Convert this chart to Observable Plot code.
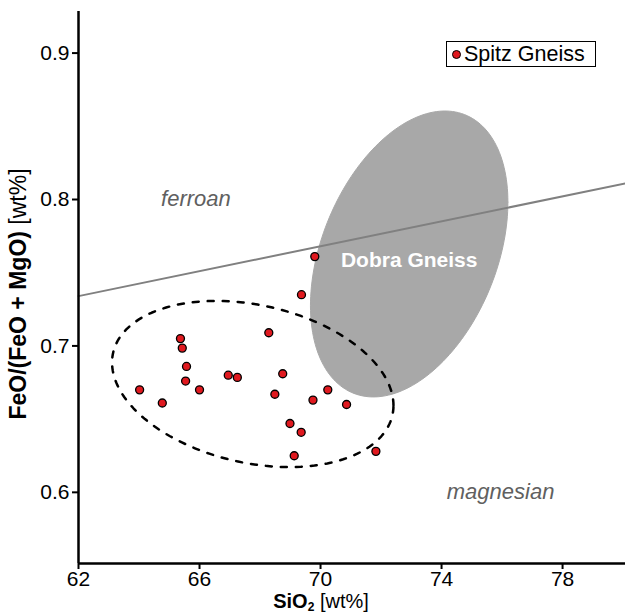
<!DOCTYPE html>
<html><head><meta charset="utf-8">
<script src="https://cdn.jsdelivr.net/npm/d3@7"></script>
<script src="https://cdn.jsdelivr.net/npm/@observablehq/plot@0.6"></script>
<style>
body{margin:0;background:#fff;}
#wrap{position:relative;width:625px;height:615px;font-family:"Liberation Sans",Arial,sans-serif;}
#legend{position:absolute;left:446px;top:41px;width:148px;height:24px;border:1.5px solid #000;background:#fff;display:flex;align-items:center;font-size:21.5px;color:#000;}
#legend .d{width:7px;height:7px;border-radius:50%;background:#e0191f;border:1.2px solid #000;margin:0 3px 0 5px;}
</style></head><body><div id="wrap"></div>
<script>
// Spitz Gneiss samples
const sio2 = [64.02,64.77,65.37,65.43,65.57,65.54,66.00,66.95,67.25,68.29,68.75,68.49,68.99,69.36,69.13,69.75,70.24,70.86,71.83,69.81,69.37];
const feoRatio = [0.670,0.661,0.705,0.6985,0.686,0.676,0.670,0.680,0.6785,0.709,0.681,0.667,0.647,0.641,0.625,0.663,0.670,0.660,0.628,0.761,0.735];
const xTicks = [62,66,70,74,78];
const yTicks = [0.6,0.7,0.8,0.9];
// ferroan / magnesian boundary
const boundarySiO2 = [62,80.08];
const boundaryRatio = [0.734,0.811];
// ellipses: centre, offset of right-most point, vertical half-chord through centre
const dobraCenter = [72.93,0.7628], dobraRight = [3.263,0.0354], dobraHalf = 0.091;
const spitzCenter = [67.76,0.674], spitzRight = [4.651,-0.0147], spitzHalf = 0.0548;
// annotations
const labelText = ["ferroan","magnesian"];
const labelX = [65.88,75.95];
const labelY = [0.8003,0.600];
const dobraLabel = ["Dobra Gneiss"];

function ellipse(c, r, h){
  return d3.range(0,361,2).map(a=>{const t=a*Math.PI/180;return {x:c[0]+r[0]*Math.cos(t), y:c[1]+r[1]*Math.cos(t)+h*Math.sin(t)};});
}
const pts = sio2.map((x,i)=>({x, y:feoRatio[i]}));
const boundary = boundarySiO2.map((x,i)=>({x,y:boundaryRatio[i]}));
const labels = labelText.map((t,i)=>({t,x:labelX[i],y:labelY[i]}));

const plot = Plot.plot({
  width:625, height:615,
  marginLeft:78, marginRight:0, marginTop:11, marginBottom:52,
  style:{fontFamily:'"Liberation Sans",Arial,sans-serif', fontSize:"21px", color:"#000", background:"#fff"},
  x:{domain:[62,80.08]},
  y:{domain:[0.5514,0.9284]},
  marks:[
    Plot.line(ellipse(dobraCenter,dobraRight,dobraHalf),{x:"x",y:"y",fill:"#a8a8a8",stroke:"#a8a8a8",strokeWidth:1}),
    Plot.line(ellipse(spitzCenter,spitzRight,spitzHalf),{x:"x",y:"y",stroke:"#000",strokeWidth:2.5,strokeDasharray:"6,9"}),
    Plot.line(boundary,{x:"x",y:"y",stroke:"#808080",strokeWidth:2}),
    Plot.text(labels,{x:"x",y:"y",text:"t",fill:"#606060",fontStyle:"italic",fontSize:22}),
    Plot.text(dobraLabel,{x:()=>dobraCenter[0],y:()=>dobraCenter[1],text:d=>d,fill:"#fff",fontWeight:"bold",fontSize:21,dy:6}),
    Plot.dot(pts,{x:"x",y:"y",r:4,fill:"#e0191f",stroke:"#000",strokeWidth:1.3}),
    Plot.ruleX([62],{stroke:"#000",strokeWidth:2.5}),
    Plot.ruleY([0.5514],{stroke:"#000",strokeWidth:2.5}),
    Plot.axisX(xTicks,{tickSize:6,tickPadding:1.5,stroke:"#000",strokeWidth:2,fontSize:21,label:null}),
    Plot.axisY(yTicks,{tickSize:6,tickPadding:3,stroke:"#000",strokeWidth:2,fontSize:21,label:null,tickFormat:d3.format(".1f")})
  ]
});
const wrap = document.getElementById("wrap");
wrap.appendChild(plot);
const svg = d3.select(plot);
// axis titles
const xt = svg.append("text").attr("x",321).attr("y",608).attr("text-anchor","middle").attr("font-size",20);
xt.append("tspan").attr("font-weight","bold").text("SiO");
xt.append("tspan").attr("font-weight","bold").attr("font-size",12).attr("dy",2.5).text("2");
xt.append("tspan").attr("dy",-2.5).text(" [wt%]");
const yt = svg.append("text").attr("transform","translate(26,294) rotate(-90)").attr("text-anchor","middle").attr("font-size",23);
yt.append("tspan").attr("font-weight","bold").text("FeO/(FeO + MgO)");
yt.append("tspan").text(" [wt%]");
// legend
const lg = document.createElement("div");
lg.id="legend";
lg.innerHTML='<span class="d"></span><span>Spitz Gneiss</span>';
wrap.appendChild(lg);
</script></body></html>
